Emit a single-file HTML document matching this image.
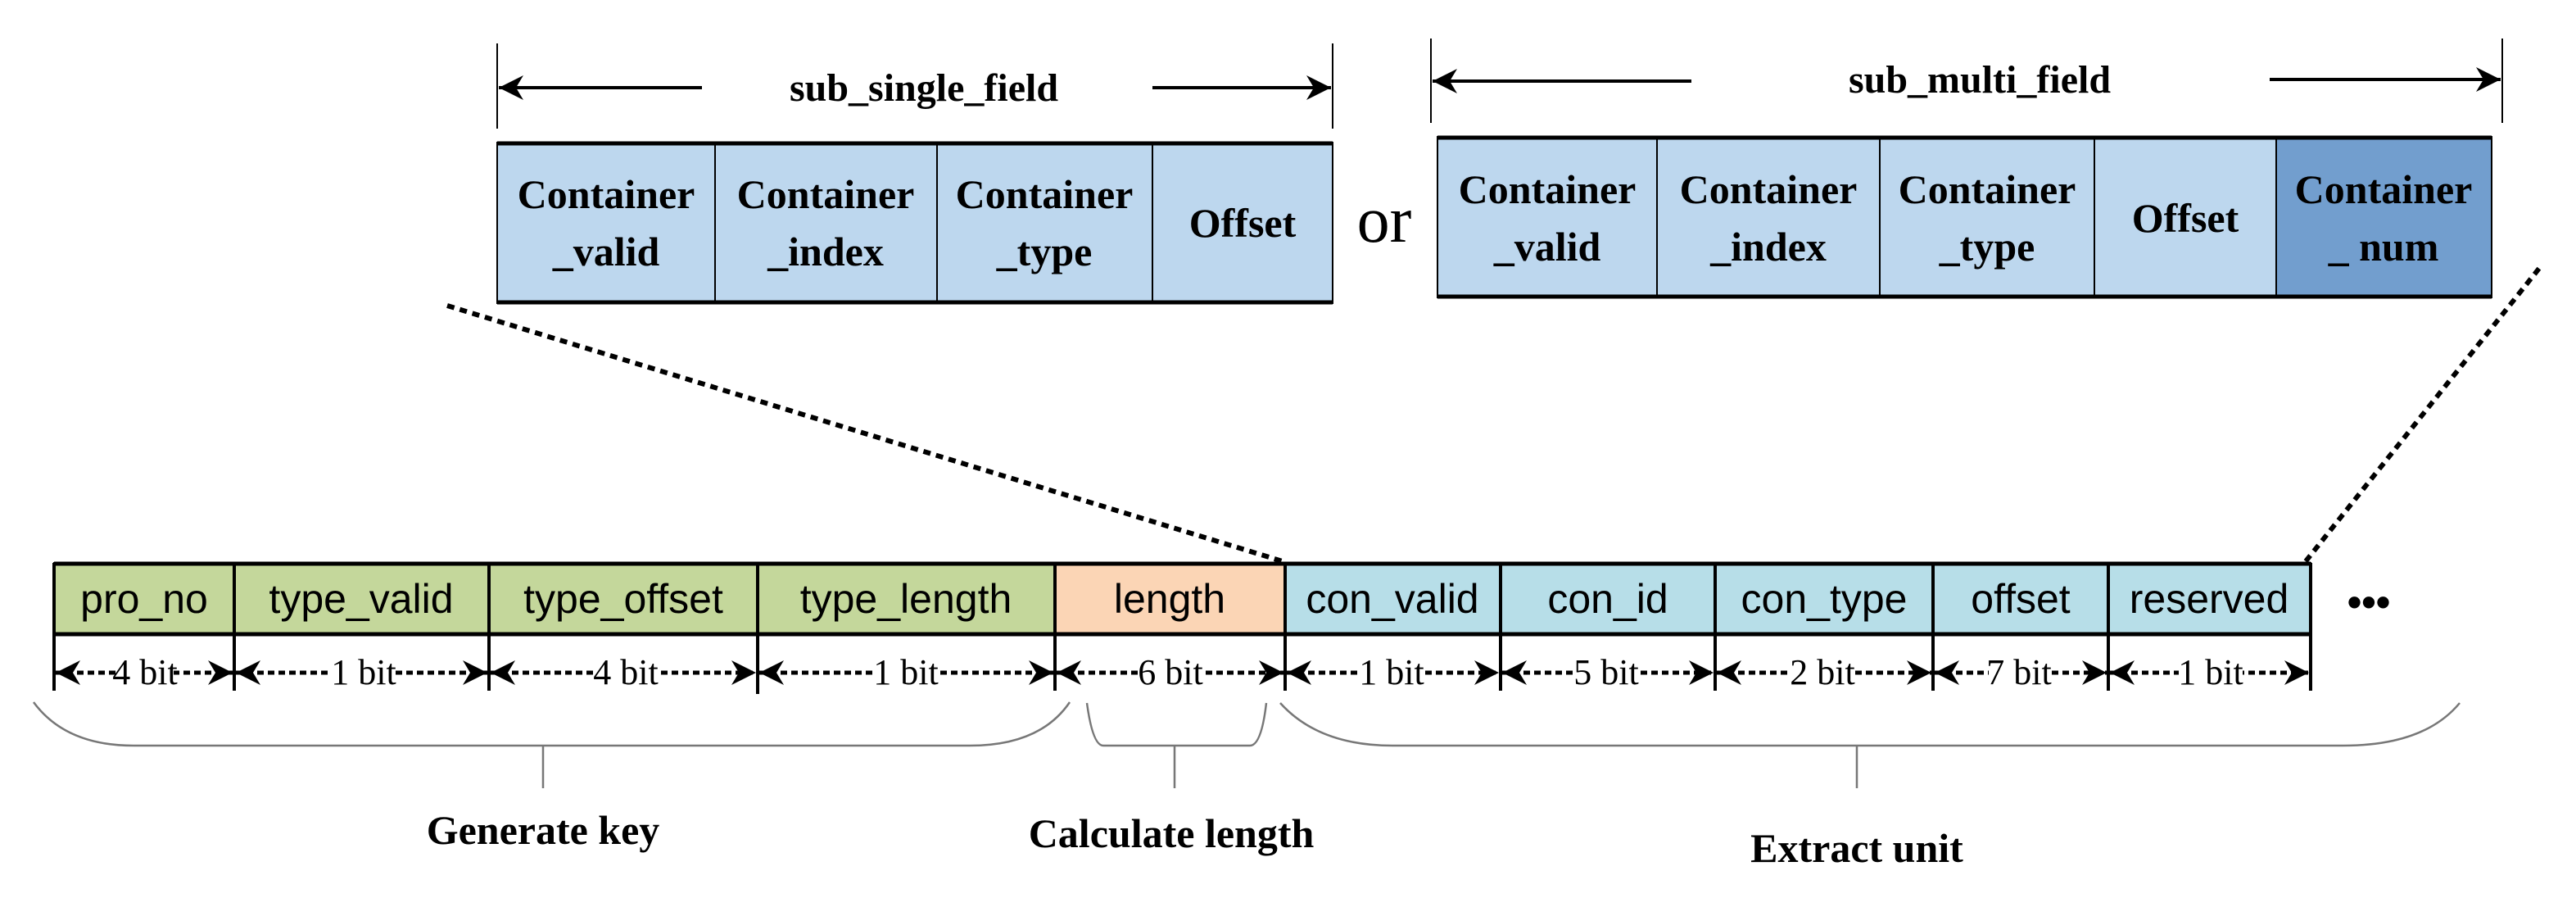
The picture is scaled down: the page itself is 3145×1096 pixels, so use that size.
<!DOCTYPE html>
<html><head><meta charset="utf-8"><style>html,body{margin:0;padding:0;background:#fff}svg{display:block}</style></head>
<body>
<svg width="3145" height="1096" viewBox="0 0 3145 1096" xmlns="http://www.w3.org/2000/svg">
<defs>
<marker id="ah" viewBox="0 0 10 10" refX="10" refY="5" markerWidth="30" markerHeight="30" markerUnits="userSpaceOnUse" orient="auto-start-reverse"><path d="M0,0 L10,5 L0,10 L3,5 Z" fill="#000"/></marker>
</defs>
<!-- top dimension lines -->
<g stroke="#000" fill="none">
<line x1="607" y1="53" x2="607" y2="157" stroke-width="2"/>
<line x1="1627" y1="53" x2="1627" y2="157" stroke-width="2"/>
<line x1="609" y1="107" x2="857" y2="107" stroke-width="4" marker-start="url(#ah)"/>
<line x1="1407" y1="107" x2="1625" y2="107" stroke-width="4" marker-end="url(#ah)"/>
<line x1="1747" y1="47" x2="1747" y2="150" stroke-width="2"/>
<line x1="3055" y1="47" x2="3055" y2="150" stroke-width="2"/>
<line x1="1749" y1="99" x2="2065" y2="99" stroke-width="4" marker-start="url(#ah)"/>
<line x1="2771" y1="97" x2="3053" y2="97" stroke-width="4" marker-end="url(#ah)"/>
</g>
<g font-family="Liberation Serif, serif" font-weight="bold" text-anchor="middle" fill="#000">
<text x="1128" y="123" font-size="48">sub_single_field</text>
<text x="2417" y="113" font-size="48">sub_multi_field</text>
</g>
<!-- top left box -->
<g stroke="#000">
<rect x="607" y="174" width="1020" height="196" fill="#BDD7EE" stroke-width="2"/>
<line x1="607" y1="175" x2="1627" y2="175" stroke-width="5"/>
<line x1="607" y1="369" x2="1627" y2="369" stroke-width="5"/>
<line x1="873" y1="174" x2="873" y2="370" stroke-width="2"/>
<line x1="1144" y1="174" x2="1144" y2="370" stroke-width="2"/>
<line x1="1407" y1="174" x2="1407" y2="370" stroke-width="2"/>
</g>
<g stroke="#000">
<rect x="1755" y="167" width="1287" height="196" fill="#BDD7EE" stroke-width="2"/>
<rect x="2779" y="167" width="263" height="196" fill="#729ECE" stroke-width="2"/>
<line x1="1755" y1="168" x2="3042" y2="168" stroke-width="5"/>
<line x1="1755" y1="362" x2="3042" y2="362" stroke-width="5"/>
<line x1="2023" y1="167" x2="2023" y2="363" stroke-width="2"/>
<line x1="2295" y1="167" x2="2295" y2="363" stroke-width="2"/>
<line x1="2557" y1="167" x2="2557" y2="363" stroke-width="2"/>
</g>
<g font-family="Liberation Serif, serif" font-weight="bold" text-anchor="middle" fill="#000" font-size="50">
<text x="740" y="254">Container</text><text x="740" y="324">_valid</text>
<text x="1008" y="254">Container</text><text x="1008" y="324">_index</text>
<text x="1275" y="254">Container</text><text x="1275" y="324">_type</text>
<text x="1517" y="289">Offset</text>
<text x="1889" y="248">Container</text><text x="1889" y="318">_valid</text>
<text x="2159" y="248">Container</text><text x="2159" y="318">_index</text>
<text x="2426" y="248">Container</text><text x="2426" y="318">_type</text>
<text x="2668" y="283">Offset</text>
<text x="2910" y="248">Container</text><text x="2910" y="318">_ num</text>
</g>
<text x="1690" y="295" font-family="Liberation Serif, serif" font-size="80" text-anchor="middle">or</text>
<!-- dotted connectors -->
<g stroke="#000" stroke-width="6" stroke-dasharray="9,7" fill="none">
<line x1="546" y1="373" x2="1569" y2="686"/>
<line x1="2815" y1="685" x2="3102" y2="325"/>
</g>
<!-- bottom row -->
<g stroke="#000" stroke-width="2">
<rect x="66" y="687" width="1222" height="88" fill="#C4D79B"/>
<rect x="1288" y="687" width="281" height="88" fill="#FBD5B5"/>
<rect x="1569" y="687" width="1252" height="88" fill="#B7DEE8"/>
<line x1="66" y1="688" x2="2821" y2="688" stroke-width="5"/>
<line x1="66" y1="774" x2="2821" y2="774" stroke-width="5"/>
</g>
<g stroke="#000" stroke-width="4">
<line x1="66" y1="687" x2="66" y2="843"/>
<line x1="286" y1="687" x2="286" y2="843"/>
<line x1="597" y1="687" x2="597" y2="843"/>
<line x1="925" y1="687" x2="925" y2="847"/>
<line x1="1288" y1="687" x2="1288" y2="843"/>
<line x1="1569" y1="687" x2="1569" y2="843"/>
<line x1="1832" y1="687" x2="1832" y2="843"/>
<line x1="2094" y1="687" x2="2094" y2="843"/>
<line x1="2360" y1="687" x2="2360" y2="843"/>
<line x1="2574" y1="687" x2="2574" y2="843"/>
<line x1="2821" y1="687" x2="2821" y2="843"/>
</g>
<g font-family="Liberation Sans, sans-serif" font-size="50" text-anchor="middle" fill="#000">
<text x="176" y="748">pro_no</text>
<text x="441" y="748">type_valid</text>
<text x="761" y="748">type_offset</text>
<text x="1106" y="748">type_length</text>
<text x="1428" y="748">length</text>
<text x="1700" y="748">con_valid</text>
<text x="1963" y="748">con_id</text>
<text x="2227" y="748">con_type</text>
<text x="2467" y="748">offset</text>
<text x="2697" y="748">reserved</text>
<text x="2892" y="752" font-weight="bold">•••</text>
</g>
<!-- bit arrows -->
<g stroke="#000" stroke-width="5" stroke-dasharray="8,5" fill="none">
<line x1="68" y1="821" x2="284" y2="821" marker-start="url(#ah)" marker-end="url(#ah)"/>
<line x1="288" y1="821" x2="595" y2="821" marker-start="url(#ah)" marker-end="url(#ah)"/>
<line x1="599" y1="821" x2="923" y2="821" marker-start="url(#ah)" marker-end="url(#ah)"/>
<line x1="927" y1="821" x2="1286" y2="821" marker-start="url(#ah)" marker-end="url(#ah)"/>
<line x1="1290" y1="821" x2="1567" y2="821" marker-start="url(#ah)" marker-end="url(#ah)"/>
<line x1="1571" y1="821" x2="1830" y2="821" marker-start="url(#ah)" marker-end="url(#ah)"/>
<line x1="1834" y1="821" x2="2092" y2="821" marker-start="url(#ah)" marker-end="url(#ah)"/>
<line x1="2096" y1="821" x2="2358" y2="821" marker-start="url(#ah)" marker-end="url(#ah)"/>
<line x1="2362" y1="821" x2="2572" y2="821" marker-start="url(#ah)" marker-end="url(#ah)"/>
<line x1="2576" y1="821" x2="2819" y2="821" marker-start="url(#ah)" marker-end="url(#ah)"/>
</g>
<g font-family="Liberation Serif, serif" font-size="44" text-anchor="middle" fill="#000">
<g fill="#fff" stroke="none">
<rect x="142" y="800" width="70" height="40"/><rect x="405" y="800" width="78" height="40"/><rect x="725" y="800" width="78" height="40"/>
<rect x="1067" y="800" width="78" height="40"/><rect x="1390" y="800" width="78" height="40"/><rect x="1660" y="800" width="78" height="40"/>
<rect x="1922" y="800" width="78" height="40"/><rect x="2186" y="800" width="78" height="40"/><rect x="2428" y="800" width="74" height="40"/>
<rect x="2660" y="800" width="78" height="40"/>
</g>
<text x="177" y="835">4 bit</text>
<text x="444" y="835">1 bit</text>
<text x="764" y="835">4 bit</text>
<text x="1106" y="835">1 bit</text>
<text x="1429" y="835">6 bit</text>
<text x="1699" y="835">1 bit</text>
<text x="1961" y="835">5 bit</text>
<text x="2225" y="835">2 bit</text>
<text x="2465" y="835">7 bit</text>
<text x="2699" y="835">1 bit</text>
</g>
<!-- braces -->
<g stroke="#777" stroke-width="2.5" fill="none">
<path d="M41,857 Q80,910 163,910 L1184,910 Q1270,910 1306,857"/>
<line x1="663" y1="910" x2="663" y2="962"/>
<path d="M1327,858 Q1334,910 1347,910 L1526,910 Q1540,910 1546,858"/>
<line x1="1434" y1="910" x2="1434" y2="962"/>
<path d="M1563,858 Q1610,910 1700,910 L2861,910 Q2960,910 3003,858"/>
<line x1="2267" y1="910" x2="2267" y2="962"/>
</g>
<g font-family="Liberation Serif, serif" font-weight="bold" font-size="50" text-anchor="middle" fill="#000">
<text x="663" y="1030">Generate key</text>
<text x="1430" y="1034">Calculate length</text>
<text x="2267" y="1052">Extract unit</text>
</g>
</svg>
</body></html>
